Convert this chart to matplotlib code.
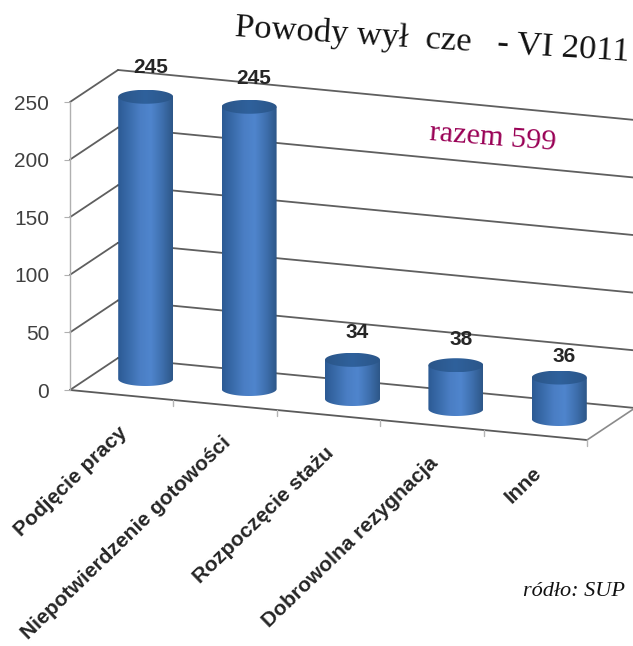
import numpy as np
import matplotlib
matplotlib.use("Agg")
import matplotlib.pyplot as plt
from matplotlib.colors import LinearSegmentedColormap
from matplotlib.patches import Polygon
from matplotlib.transforms import Affine2D

categories = ["Podjęcie pracy", "Niepotwierdzenie gotowości", "Rozpoczęcie stażu",
              "Dobrowolna rezygnacja", "Inne"]
values = [245, 245, 34, 38, 36]
value_ticks = [0, 50, 100, 150, 200, 250]
title_text = "Powody wył  cze   - VI 2011"
total_text = "razem 599"
source_text = "ródło: SUP"

W, H = 633, 646
fig = plt.figure(figsize=(W / 100, H / 100), dpi=100, facecolor="white")
X0, X1, Y0, Y1 = 70, 587, 390, 102
ax = fig.add_axes([X0 / W, 1 - Y0 / H, (X1 - X0) / W, (Y0 - Y1) / H])
ax.patch.set_visible(False)
PX_CAT = (X1 - X0) / 5
PX_VAL = (Y0 - Y1) / 250
XLIM, YLIM = (0, 5), (0, 250)
SLOPE, DEPTH_X, DEPTH_Y = 10.0, 48.0, 32.0


def proj(cat, val, depth=0.0):
    """Oblique projection of (category, value, depth) onto the axes' data plane."""
    return (cat + depth * DEPTH_X / PX_CAT,
            val + (-SLOPE * cat + DEPTH_Y * depth) / PX_VAL)


def seg(a, b, **kw):
    ax.plot([a[0], b[0]], [a[1], b[1]], clip_on=False, solid_capstyle="round", **kw)


GRID = dict(color="#4d4d4d", lw=1.3, alpha=0.9, zorder=1)
for v in value_ticks:
    seg(proj(0, v, 0), proj(0, v, 1), **GRID)
    seg(proj(0, v, 1), proj(5, v, 1), **GRID)
seg(proj(0, 0, 0), proj(5, 0, 0), color="#5a5a5a", lw=1.3, zorder=1)
seg(proj(5, 0, 0), proj(5, 0, 1), color="#8a8a8a", lw=1.2, zorder=1)
for k in range(1, 6):
    seg(proj(k, 0, 0), proj(k, -5, 0), color="#b5b5b5", lw=1, zorder=1)

cmap = LinearSegmentedColormap.from_list(
    "cyl", ["#2c5a94", "#3a6cab", "#4a7ec4", "#4f85cd", "#3f70af", "#2d5788"])
cap_cmap = LinearSegmentedColormap.from_list("cap", ["#2b5689", "#2f619c", "#2b5689"])
RX = 27.5 / PX_CAT
RY = 7.0 / PX_VAL
t = np.linspace(0, np.pi, 60)
ramp = np.linspace(0, 1, 128).reshape(1, -1)
label_lift = [29, 28, 27, 26, 21]

for i, v in enumerate(values):
    c = i + 0.5
    bx, by = proj(c, 0, 0.5)
    tx, ty = proj(c, v, 0.5)
    lower = np.c_[bx - RX * np.cos(t), by - RY * np.sin(t)]
    upper = np.c_[tx + RX * np.cos(t), np.full_like(t, ty)]
    body = Polygon(np.vstack([lower, upper]), closed=True, fc="none", ec="none",
                   transform=ax.transData, zorder=3)
    ax.add_patch(body)
    im = ax.imshow(ramp, cmap=cmap, aspect="auto", zorder=3,
                   extent=(bx - RX, bx + RX, by - RY, ty + RY))
    im.set_clip_box(fig.bbox)
    im.set_clip_path(body)
    tt = np.linspace(0, 2 * np.pi, 120)
    cap = Polygon(np.c_[tx + RX * np.cos(tt), ty + RY * np.sin(tt)], closed=True,
                  fc="none", ec="none", zorder=4)
    ax.add_patch(cap)
    im2 = ax.imshow(ramp, cmap=cap_cmap, aspect="auto", zorder=4,
                    extent=(tx - RX, tx + RX, ty - RY, ty + RY))
    im2.set_clip_box(fig.bbox)
    im2.set_clip_path(cap)
    ax.annotate(str(v), xy=(tx, ty), xytext=(5, label_lift[i]), textcoords="offset pixels",
                ha="center", va="center", fontsize=15, fontweight="bold",
                family="Liberation Sans", color="#262626", annotation_clip=False, zorder=6)

ax.set_xlim(*XLIM)
ax.set_ylim(*YLIM)
for s in ("top", "right", "bottom"):
    ax.spines[s].set_visible(False)
ax.spines["left"].set_color("#b0b0b0")
ax.spines["left"].set_linewidth(1.0)
ax.set_yticks(value_ticks)
ax.tick_params(axis="y", length=4, color="#b0b0b0", pad=11, labelsize=15, labelcolor="#404040")
ax.set_xticks([k + 0.5 for k in range(5)], categories)
ax.tick_params(axis="x", length=0, pad=0)
for lab in ax.get_yticklabels():
    lab.set_family("Liberation Sans")
for k, lab in enumerate(ax.get_xticklabels()):
    lab.set(family="Liberation Sans", fontweight="bold", fontsize=15.1, rotation=44,
            ha="right", va="center", rotation_mode="anchor", color="#262626")
    lab.set_transform(ax.get_xaxis_transform() + Affine2D().translate(3, -(35 + SLOPE * (k + 0.5))))

fig.text(235 / W, 1 - 28 / H, title_text, family="Liberation Serif", fontsize=24.8, color="#111111",
         rotation=-3.6, rotation_mode="anchor", ha="left", va="center")
fig.text(430 / W, 1 - 133 / H, total_text, family="Liberation Serif", fontsize=21.8, color="#990055",
         rotation=-4.5, rotation_mode="anchor", ha="left", va="center")
fig.text(625 / W, 1 - 591 / H, source_text, family="Liberation Serif", style="italic",
         fontsize=16, color="#111111", ha="right", va="center")

fig.savefig("out.png", dpi=100, facecolor="white")
